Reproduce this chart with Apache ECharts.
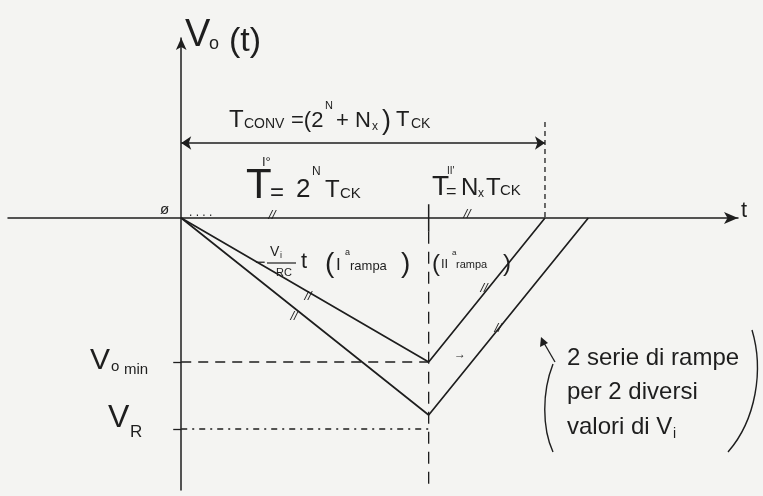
<!DOCTYPE html>
<html>
<head>
<meta charset="utf-8" />
<title>Convertitore a doppia rampa</title>
<script src="https://cdn.jsdelivr.net/npm/echarts@6/dist/echarts.min.js"></script>
<style>
	html, body { margin: 0; padding: 0; background: #f4f4f2; }
	#main { width: 763px; height: 496px; }
</style>
</head>
<body>
<div id="main"></div>
<script type="text/javascript">
	// tempi: inizio, fine I rampa (2^N Tck), fine II rampa
	var tRampaA = [0, 10, 14.7];
	var vRampaA = [0, -5.76, 0];
	var tRampaB = [0, 10, 16.45];
	var vRampaB = [0, -7.88, 0];

	var tInt = 10;        // T I  = 2^N Tck
	var tConv = 14.7;     // Tconv = (2^N + Nx) Tck
	var voMin = -5.76;
	var vR = -8.44;

	var ink = '#1e1e1e';
	var fam = '"Liberation Sans"';

	function pts(ts, vs) {
		var out = [];
		for (var i = 0; i < ts.length; i++) out.push([ts[i], vs[i]]);
		return out;
	}

	function seg(data, type, width) {
		return {
			type: 'line', data: data, symbol: 'none', silent: true,
			lineStyle: { color: ink, width: width || 1.3, type: type || 'solid' }
		};
	}

	// pezzo di testo scritto a mano
	function T(x, y, s, size, extra) {
		var st = {
			text: s, fill: ink, align: 'left', verticalAlign: 'middle',
			font: (extra && extra.italic ? 'italic ' : '') + size + 'px ' + fam
		};
		if (extra && extra.align) st.align = extra.align;
		return { type: 'text', x: x, y: y, silent: true, style: st };
	}

	var myChart = echarts.init(document.getElementById('main'));

	var option = {
		backgroundColor: '#f4f4f2',
		animation: false,
		grid: { left: 8, right: 25, top: 38, bottom: 6 },
		xAxis: {
			type: 'value', min: -7, max: 22.5,
			axisLine: { onZero: true, symbol: ['none', 'arrow'], symbolSize: [9, 14], lineStyle: { color: ink, width: 1.5 } },
			axisTick: { show: false }, axisLabel: { show: false }, splitLine: { show: false }
		},
		yAxis: {
			type: 'value', min: -10.88, max: 7.2,
			axisLine: { onZero: true, symbol: ['none', 'arrow'], symbolSize: [8, 12], lineStyle: { color: ink, width: 1.5 } },
			axisTick: { show: true, customValues: [voMin, vR], length: 8, lineStyle: { color: ink, width: 1.3 } },
			axisLabel: { show: false }, splitLine: { show: false }
		},
		series: [
			seg(pts(tRampaA, vRampaA), 'solid', 1.7),
			seg(pts(tRampaB, vRampaB), 'solid', 1.7),
			seg([[0, voMin], [tInt, voMin]], [10, 7]),
			seg([[0, vR], [tInt, vR]], [6, 5, 2, 5]),
			seg([[tInt, 0.55], [tInt, -0.55]], 'solid', 1.5),
			seg([[tInt, -0.55], [tInt, -10.88]], [12, 8]),
			seg([[tConv, 3.84], [tConv, 0]], [5, 4]),
			{
				type: 'lines', coordinateSystem: 'cartesian2d', silent: true,
				symbol: ['arrow', 'arrow'], symbolSize: 10,
				lineStyle: { color: ink, width: 1.5, opacity: 1 },
				data: [{ coords: [[0, 3.0], [tConv, 3.0]] }]
			}
		],
		graphic: [
			// V0(t)
			T(185, 36, 'V', 38), T(209, 44, 'o', 18), T(229, 42, '(t)', 34),
			// Tconv = (2^N + Nx) Tck
			T(229, 120, 'T', 24), T(244, 124, 'CONV', 14),
			T(291, 121, '=(2', 22), T(325, 106, 'N', 11),
			T(336, 121, '+ N', 22), T(372, 127, 'x', 12),
			T(382, 122, ')', 27), T(396, 120, 'T', 22), T(411, 124, 'CK', 14),
			// T I = 2^N Tck
			T(246, 186, 'T', 42), T(262, 162, 'I°', 13),
			T(270, 193, '=', 24), T(296, 190, '2', 26), T(312, 172, 'N', 12),
			T(325, 190, 'T', 24), T(340, 194, 'CK', 15),
			// T II = Nx Tck
			T(432, 187, 'T', 28), T(447, 171, "II'", 10), T(446, 192, '=', 18),
			T(461, 188, 'N', 24), T(478, 194, 'x', 12),
			T(486, 188, 'T', 24), T(500, 191, 'CK', 15),
			// -Vi/RC t (I^a rampa)
			T(255, 263, '\u2212', 18), T(270, 252, 'V', 14), T(280, 256, 'i', 9),
			{ type: 'line', silent: true, shape: { x1: 267, y1: 263, x2: 296, y2: 263 }, style: { stroke: ink, lineWidth: 1.2 } },
			T(276, 273, 'RC', 11),
			T(301, 262, 't', 22),
			T(325, 264, '(', 28), T(336, 265, 'I', 17), T(345, 253, 'a', 9),
			T(350, 266, 'rampa', 13), T(401, 264, ')', 28),
			// (II^a rampa)
			T(432, 264, '(', 24), T(441, 264, 'II', 13), T(452, 253, 'a', 8),
			T(456, 265, 'rampa', 11), T(503, 264, ')', 24),
			// Vo min, VR
			T(90, 361, 'V', 30), T(111, 367, 'o', 15), T(124, 370, 'min', 15),
			T(108, 418, 'V', 32), T(130, 432, 'R', 17),
			// t axis label, origin
			T(741, 211, 't', 22),
			T(160, 210, 'ø', 15),
			T(189, 213, '. . . .', 12),
			// tratti //
			T(272, 215, '//', 13, { italic: true, align: 'center' }),
			T(467, 214, '//', 13, { italic: true, align: 'center' }),
			T(308, 296, '//', 13, { italic: true, align: 'center' }),
			T(294, 316, '//', 13, { italic: true, align: 'center' }),
			T(484, 288, '//', 13, { italic: true, align: 'center' }),
			T(498, 328, '//', 13, { italic: true, align: 'center' }),
			T(454, 355, '\u2192', 12),
			// nota
			T(567, 358, '2 serie di rampe', 24),
			T(567, 392, 'per 2 diversi', 24),
			T(567, 427, 'valori di V', 24), T(673, 434, 'i', 14),
			{ type: 'bezierCurve', silent: true, shape: { x1: 553, y1: 364, cpx1: 542, cpy1: 392, cpx2: 542, cpy2: 428, x2: 553, y2: 452 }, style: { stroke: ink, lineWidth: 1.4, fill: 'none' } },
			{ type: 'bezierCurve', silent: true, shape: { x1: 752, y1: 330, cpx1: 764, cpy1: 370, cpx2: 756, cpy2: 420, x2: 728, y2: 452 }, style: { stroke: ink, lineWidth: 1.4, fill: 'none' } },
			{ type: 'line', silent: true, shape: { x1: 555, y1: 362, x2: 544, y2: 343 }, style: { stroke: ink, lineWidth: 1.3 } },
			{ type: 'polygon', silent: true, shape: { points: [[541, 337], [540, 347], [548, 343]] }, style: { fill: ink } }
		]
	};

	myChart.setOption(option);
</script>
</body>
</html>
